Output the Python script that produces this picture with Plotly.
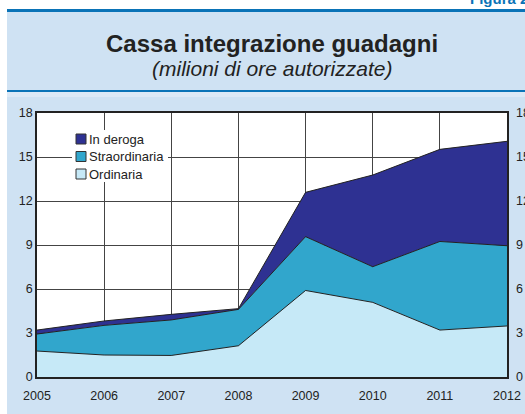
import plotly.graph_objects as go

# Data -------------------------------------------------------------------
anni = [2005, 2006, 2007, 2008, 2009, 2010, 2011, 2012]
ordinaria = [1.77, 1.50, 1.47, 2.13, 5.90, 5.09, 3.20, 3.48]
straordinaria = [1.16, 2.02, 2.42, 2.48, 3.67, 2.43, 6.04, 5.47]
in_deroga = [0.27, 0.30, 0.38, 0.05, 3.02, 6.25, 6.28, 7.12]
y_ticks = [0, 3, 6, 9, 12, 15, 18]
legend_names = ['In deroga', 'Straordinaria', 'Ordinaria']

COL_DEROGA = '#2e3192'
COL_STRAORD = '#31a6cc'
COL_ORD = '#c6e9f7'
PANEL = '#cfe2f3'
BLUE_LINE = '#0a73b7'
FONT = 'Liberation Sans, Arial, sans-serif'

# plot area in pixels
W, H = 525, 414
L, R, T, B = 37, 18, 113, 37


def px_x(p):
    return (p - L) / (W - L - R)


def px_y(p):
    return (H - B - p) / (H - T - B)


fig = go.Figure()

# stacked areas
for name, vals, col in [('Ordinaria', ordinaria, COL_ORD),
                        ('Straordinaria', straordinaria, COL_STRAORD),
                        ('In deroga', in_deroga, COL_DEROGA)]:
    fig.add_trace(go.Scatter(x=anni, y=vals, stackgroup='one', mode='lines',
                             line=dict(color='#222222', width=1),
                             fillcolor=col, name=name, showlegend=False,
                             hoverinfo='x+y+name'))

# invisible trace for right axis
fig.add_trace(go.Scatter(x=[anni[0]], y=[0], yaxis='y2', mode='markers',
                         marker=dict(opacity=0), showlegend=False, hoverinfo='skip'))

fig.update_layout(
    width=W, height=H,
    margin=dict(l=L, r=R, t=T, b=B, autoexpand=False),
    paper_bgcolor=PANEL,
    plot_bgcolor='white',
    font=dict(family=FONT, size=12.5, color='#222222'),
    showlegend=False,
    xaxis=dict(range=[2005, 2012], tickvals=anni, showgrid=True,
               gridcolor='#444444', gridwidth=1, showline=True,
               linecolor='#222222', linewidth=1.5, mirror=True,
               ticks='', ticklabelstandoff=6, zeroline=False, automargin=False),
    yaxis=dict(range=[0, 18], tickvals=y_ticks, showgrid=True,
               gridcolor='#444444', gridwidth=1, showline=True,
               linecolor='#222222', linewidth=1.5, mirror=True,
               ticks='', zeroline=False, automargin=False),
    yaxis2=dict(range=[0, 18], tickvals=y_ticks, overlaying='y', side='right',
                showgrid=False, showline=False, ticks='', zeroline=False,
                ticklabelstandoff=8, automargin=False),
)

# background pieces: white strip on top and left, blue rules
fig.add_shape(type='rect', xref='paper', yref='paper',
              x0=px_x(0), x1=px_x(W), y0=px_y(0), y1=px_y(9),
              fillcolor='white', line=dict(width=0), layer='below')
fig.add_shape(type='rect', xref='paper', yref='paper',
              x0=px_x(0), x1=px_x(7), y0=px_y(0), y1=px_y(H),
              fillcolor='white', line=dict(width=0), layer='below')
fig.add_shape(type='line', xref='paper', yref='paper',
              x0=px_x(7), x1=px_x(W), y0=px_y(10.5), y1=px_y(10.5),
              line=dict(color=BLUE_LINE, width=3))
fig.add_shape(type='line', xref='paper', yref='paper',
              x0=px_x(7), x1=px_x(W), y0=px_y(91), y1=px_y(91),
              line=dict(color=BLUE_LINE, width=2))
fig.add_shape(type='rect', xref='paper', yref='paper',
              x0=px_x(7), x1=px_x(W), y0=px_y(92), y1=px_y(97),
              fillcolor='#dce9f6', line=dict(width=0), layer='below')

# legend drawn by hand (white box, squares, labels)
fig.add_shape(type='rect', xref='paper', yref='paper',
              x0=px_x(72), x1=px_x(168), y0=px_y(130), y1=px_y(182),
              fillcolor='white', line=dict(width=0), layer='above')
for i, (name, col) in enumerate(zip(legend_names, [COL_DEROGA, COL_STRAORD, COL_ORD])):
    yc = 139 + i * 17.5
    fig.add_shape(type='rect', xref='paper', yref='paper',
                  x0=px_x(76), x1=px_x(86), y0=px_y(yc - 5), y1=px_y(yc + 5),
                  fillcolor=col, line=dict(color='#333333', width=1), layer='above')
    fig.add_annotation(text=name, xref='paper', yref='paper',
                       x=px_x(87), y=px_y(yc), xanchor='left', yanchor='middle',
                       showarrow=False, font=dict(size=13, color='#222222'))

# titles
fig.add_annotation(text='<b>Cassa integrazione guadagni</b>', xref='paper', yref='paper',
                   x=px_x(272), y=px_y(43), xanchor='center', yanchor='middle',
                   showarrow=False, font=dict(size=24, color='#222222'))
fig.add_annotation(text='<i>(milioni di ore autorizzate)</i>', xref='paper', yref='paper',
                   x=px_x(272), y=px_y(68), xanchor='center', yanchor='middle',
                   showarrow=False, font=dict(size=21, color='#222222'))
fig.add_annotation(text='<b>Figura 2.1</b>', xref='paper', yref='paper',
                   x=px_x(468), y=px_y(-2), xanchor='left', yanchor='middle',
                   showarrow=False, font=dict(size=15, color=BLUE_LINE))

fig.write_html("out.html", config={'displayModeBar': False},
               post_script="document.body.style.margin='0';")
